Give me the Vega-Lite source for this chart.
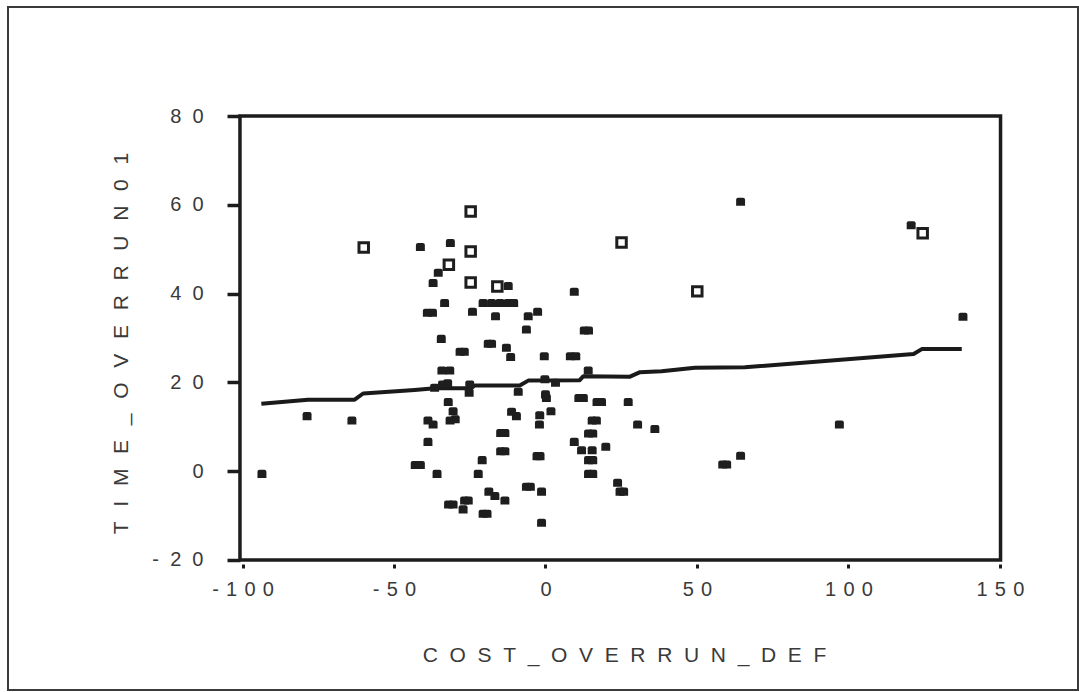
{
  "$schema": "https://vega.github.io/schema/vega-lite/v6.json",
  "width": 1070,
  "height": 683,
  "autosize": {"type": "none"},
  "padding": {"left": 8, "top": 7, "right": 1, "bottom": 2},
  "background": "white",
  "config": {
    "view": {"stroke": "#3a3a3a", "strokeWidth": 2},
    "axis": {
      "grid": false,
      "labelFont": "Liberation Sans",
      "labelFontSize": 20,
      "labelColor": "#3a3a3a",
      "titleFont": "Liberation Sans",
      "titleFontSize": 21,
      "titleFontWeight": "normal",
      "titleColor": "#3a3a3a",
      "tickColor": "#1c1c1c",
      "labelOverlap": false,
      "labelFlush": false
    }
  },
  "datasets": {
    "cases": [
      {"x": -93.6, "y": -0.5, "marker": "solid"},
      {"x": -78.7, "y": 12.5, "marker": "solid"},
      {"x": -63.9, "y": 11.5, "marker": "solid"},
      {"x": -43.0, "y": 1.5, "marker": "solid"},
      {"x": -41.3, "y": 1.5, "marker": "solid"},
      {"x": -41.3, "y": 50.6, "marker": "solid"},
      {"x": -38.8, "y": 11.5, "marker": "solid"},
      {"x": -37.1, "y": 10.6, "marker": "solid"},
      {"x": -38.8, "y": 6.7, "marker": "solid"},
      {"x": -39.0, "y": 35.8, "marker": "solid"},
      {"x": -37.3, "y": 35.8, "marker": "solid"},
      {"x": -37.1, "y": 42.5, "marker": "solid"},
      {"x": -36.6, "y": 18.9, "marker": "solid"},
      {"x": -35.8, "y": -0.5, "marker": "solid"},
      {"x": -35.4, "y": 44.8, "marker": "solid"},
      {"x": -34.4, "y": 29.9, "marker": "solid"},
      {"x": -34.2, "y": 22.8, "marker": "solid"},
      {"x": -31.6, "y": 22.8, "marker": "solid"},
      {"x": -34.0, "y": 19.6, "marker": "solid"},
      {"x": -32.3, "y": 19.9, "marker": "solid"},
      {"x": -33.3, "y": 38.0, "marker": "solid"},
      {"x": -32.1, "y": 15.7, "marker": "solid"},
      {"x": -31.4, "y": 51.5, "marker": "solid"},
      {"x": -30.5, "y": 13.6, "marker": "solid"},
      {"x": -31.5, "y": 11.5, "marker": "solid"},
      {"x": -29.8, "y": 11.8, "marker": "solid"},
      {"x": -32.0, "y": -7.4, "marker": "solid"},
      {"x": -30.5, "y": -7.4, "marker": "solid"},
      {"x": -27.2, "y": -8.5, "marker": "solid"},
      {"x": -26.7, "y": -6.5, "marker": "solid"},
      {"x": -25.5, "y": -6.5, "marker": "solid"},
      {"x": -28.2, "y": 27.0, "marker": "solid"},
      {"x": -26.8, "y": 27.0, "marker": "solid"},
      {"x": -25.0, "y": 19.6, "marker": "solid"},
      {"x": -25.2, "y": 17.8, "marker": "solid"},
      {"x": -24.1, "y": 36.0, "marker": "solid"},
      {"x": -22.2, "y": -0.5, "marker": "solid"},
      {"x": -20.9, "y": 2.6, "marker": "solid"},
      {"x": -20.6, "y": -9.5, "marker": "solid"},
      {"x": -19.3, "y": -9.5, "marker": "solid"},
      {"x": -20.6, "y": 38.0, "marker": "solid"},
      {"x": -17.8, "y": 38.0, "marker": "solid"},
      {"x": -15.0, "y": 38.0, "marker": "solid"},
      {"x": -12.3, "y": 38.0, "marker": "solid"},
      {"x": -10.5, "y": 38.0, "marker": "solid"},
      {"x": -18.9, "y": 28.8, "marker": "solid"},
      {"x": -17.8, "y": 28.8, "marker": "solid"},
      {"x": -18.7, "y": -4.5, "marker": "solid"},
      {"x": -16.7, "y": -5.5, "marker": "solid"},
      {"x": -16.5, "y": 35.0, "marker": "solid"},
      {"x": -14.8, "y": 8.7, "marker": "solid"},
      {"x": -13.4, "y": 8.7, "marker": "solid"},
      {"x": -14.8, "y": 4.6, "marker": "solid"},
      {"x": -13.4, "y": 4.6, "marker": "solid"},
      {"x": -13.4, "y": -6.5, "marker": "solid"},
      {"x": -12.3, "y": 41.8, "marker": "solid"},
      {"x": -12.9, "y": 27.9, "marker": "solid"},
      {"x": -11.5, "y": 25.8, "marker": "solid"},
      {"x": -11.2, "y": 13.5, "marker": "solid"},
      {"x": -9.6, "y": 12.5, "marker": "solid"},
      {"x": -9.0, "y": 18.0, "marker": "solid"},
      {"x": -6.3, "y": 32.0, "marker": "solid"},
      {"x": -5.7, "y": 35.0, "marker": "solid"},
      {"x": -2.6, "y": 36.0, "marker": "solid"},
      {"x": -6.3, "y": -3.4, "marker": "solid"},
      {"x": -5.0, "y": -3.4, "marker": "solid"},
      {"x": -2.8, "y": 3.5, "marker": "solid"},
      {"x": -1.8, "y": 3.5, "marker": "solid"},
      {"x": -1.3, "y": -4.5, "marker": "solid"},
      {"x": -1.3, "y": -11.5, "marker": "solid"},
      {"x": -1.9, "y": 12.7, "marker": "solid"},
      {"x": -2.0, "y": 10.6, "marker": "solid"},
      {"x": -0.4, "y": 26.0, "marker": "solid"},
      {"x": -0.2, "y": 20.8, "marker": "solid"},
      {"x": 0.0, "y": 17.4, "marker": "solid"},
      {"x": 0.3, "y": 16.6, "marker": "solid"},
      {"x": 1.8, "y": 13.6, "marker": "solid"},
      {"x": 3.3, "y": 20.0, "marker": "solid"},
      {"x": 8.2, "y": 26.0, "marker": "solid"},
      {"x": 10.0, "y": 26.0, "marker": "solid"},
      {"x": 9.5, "y": 40.5, "marker": "solid"},
      {"x": 9.5, "y": 6.7, "marker": "solid"},
      {"x": 11.0, "y": 16.6, "marker": "solid"},
      {"x": 12.5, "y": 16.6, "marker": "solid"},
      {"x": 11.9, "y": 4.8, "marker": "solid"},
      {"x": 12.8, "y": 31.8, "marker": "solid"},
      {"x": 14.2, "y": 31.8, "marker": "solid"},
      {"x": 14.1, "y": 22.8, "marker": "solid"},
      {"x": 14.2, "y": 8.6, "marker": "solid"},
      {"x": 15.6, "y": 8.6, "marker": "solid"},
      {"x": 15.4, "y": 4.8, "marker": "solid"},
      {"x": 14.2, "y": 2.6, "marker": "solid"},
      {"x": 15.6, "y": 2.6, "marker": "solid"},
      {"x": 14.2, "y": -0.5, "marker": "solid"},
      {"x": 15.6, "y": -0.5, "marker": "solid"},
      {"x": 15.4, "y": 11.5, "marker": "solid"},
      {"x": 16.8, "y": 11.5, "marker": "solid"},
      {"x": 17.0, "y": 15.7, "marker": "solid"},
      {"x": 18.5, "y": 15.7, "marker": "solid"},
      {"x": 19.9, "y": 5.6, "marker": "solid"},
      {"x": 23.8, "y": -2.5, "marker": "solid"},
      {"x": 24.6, "y": -4.5, "marker": "solid"},
      {"x": 25.8, "y": -4.5, "marker": "solid"},
      {"x": 27.3, "y": 15.7, "marker": "solid"},
      {"x": 30.4, "y": 10.6, "marker": "solid"},
      {"x": 36.1, "y": 9.6, "marker": "solid"},
      {"x": 58.5, "y": 1.6, "marker": "solid"},
      {"x": 59.8, "y": 1.6, "marker": "solid"},
      {"x": 64.4, "y": 3.6, "marker": "solid"},
      {"x": 64.4, "y": 60.8, "marker": "solid"},
      {"x": 97.0, "y": 10.6, "marker": "solid"},
      {"x": 120.7, "y": 55.5, "marker": "solid"},
      {"x": 137.8, "y": 34.9, "marker": "solid"},
      {"x": -60.0, "y": 50.4, "marker": "hollow"},
      {"x": -24.7, "y": 58.5, "marker": "hollow"},
      {"x": -24.7, "y": 49.5, "marker": "hollow"},
      {"x": -31.9, "y": 46.5, "marker": "hollow"},
      {"x": -24.7, "y": 42.5, "marker": "hollow"},
      {"x": -15.9, "y": 41.6, "marker": "hollow"},
      {"x": 25.1, "y": 51.5, "marker": "hollow"},
      {"x": 50.1, "y": 40.5, "marker": "hollow"},
      {"x": 124.5, "y": 53.6, "marker": "hollow"}
    ],
    "fit": [
      {"x": -93.8, "y": 15.2},
      {"x": -78.4, "y": 16.1},
      {"x": -63.0, "y": 16.1},
      {"x": -60.2, "y": 17.5},
      {"x": -43.2, "y": 18.3},
      {"x": -36.6, "y": 18.7},
      {"x": -25.0, "y": 18.7},
      {"x": -23.3, "y": 19.3},
      {"x": -8.5, "y": 19.3},
      {"x": -5.7, "y": 20.4},
      {"x": 11.3, "y": 20.5},
      {"x": 12.5, "y": 21.4},
      {"x": 27.9, "y": 21.3},
      {"x": 31.2, "y": 22.3},
      {"x": 38.3, "y": 22.5},
      {"x": 49.3, "y": 23.3},
      {"x": 65.8, "y": 23.4},
      {"x": 121.5, "y": 26.4},
      {"x": 124.2, "y": 27.5},
      {"x": 137.4, "y": 27.5}
    ],
    "plotFrame": [
      {"xLow": -100.85, "xHigh": 150.2, "yLow": -20, "yHigh": 80}
    ]
  },
  "encoding": {
    "x": {
      "field": "x",
      "type": "quantitative",
      "scale": {"domain": [-177.42, 175.77], "nice": false, "zero": false},
      "axis": {
        "values": [-100, -50, 0, 50, 100, 150],
        "offset": -126,
        "domain": false,
        "tickSize": 4,
        "tickWidth": 3,
        "labelPadding": 11,
        "labelExpr": "join(split(toString(datum.value), ''), '\u00a0\u200a')",
        "title": "C\u00a0\u00a0O\u00a0\u00a0S\u00a0\u00a0T\u00a0\u00a0_\u00a0\u00a0O\u00a0\u00a0V\u00a0\u00a0E\u00a0\u00a0R\u00a0\u00a0R\u00a0\u00a0U\u00a0\u00a0N\u00a0\u00a0_\u00a0\u00a0D\u00a0\u00a0E\u00a0\u00a0F",
        "titleX": 616,
        "titlePadding": 45
      }
    },
    "y": {
      "field": "y",
      "type": "quantitative",
      "scale": {"domain": [-49.28, 104.55], "nice": false, "zero": false},
      "axis": {
        "values": [-20, 0, 20, 40, 60, 80],
        "offset": -232,
        "domain": false,
        "tickSize": 13,
        "tickWidth": 3.5,
        "labelPadding": 24,
        "labelExpr": "join(split(toString(datum.value), ''), '\u00a0\u00a0')",
        "title": "T\u2002\u2009I\u2002\u2009M\u2002\u2009E\u2002\u2009_\u2002\u2009O\u2002\u2009V\u2002\u2009E\u2002\u2009R\u2002\u2009R\u2002\u2009U\u2002\u2009N\u2002\u20090\u2002\u20091",
        "titleY": 336,
        "titlePadding": 20
      }
    }
  },
  "layer": [
    {
      "data": {"name": "plotFrame"},
      "mark": {"type": "rect", "filled": false, "color": "#1c1c1c", "strokeWidth": 3.5, "opacity": 1},
      "encoding": {
        "x": {"field": "xLow", "type": "quantitative", "scale": {"domain": [-177.42, 175.77], "nice": false, "zero": false}},
        "x2": {"field": "xHigh"},
        "y": {"field": "yLow", "type": "quantitative", "scale": {"domain": [-49.28, 104.55], "nice": false, "zero": false}},
        "y2": {"field": "yHigh"}
      }
    },
    {
      "data": {"name": "fit"},
      "mark": {"type": "line", "color": "#1a1a1a", "strokeWidth": 4, "strokeJoin": "round"},
      "encoding": {}
    },
    {
      "data": {"name": "cases"},
      "transform": [{"filter": "datum.marker === 'solid'"}],
      "mark": {
        "type": "point",
        "shape": "M-1,1L-1,-0.35Q-1,-0.8,-0.55,-0.8L0.55,-0.8Q1,-0.8,1,-0.35L1,1Z",
        "filled": true,
        "size": 80,
        "color": "#1e1e1e",
        "opacity": 1
      },
      "encoding": {}
    },
    {
      "data": {"name": "cases"},
      "transform": [{"filter": "datum.marker === 'hollow'"}],
      "mark": {
        "type": "point",
        "shape": "square",
        "size": 90,
        "filled": false,
        "fill": "white",
        "fillOpacity": 1,
        "stroke": "#1e1e1e",
        "strokeWidth": 3,
        "opacity": 1
      },
      "encoding": {}
    }
  ]
}
